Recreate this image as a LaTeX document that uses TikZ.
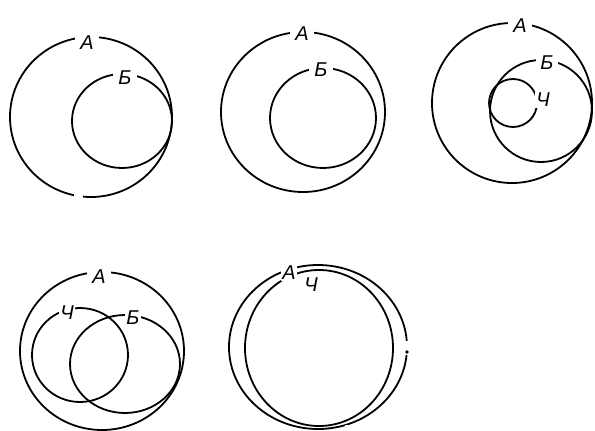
\documentclass[tikz,border=0pt]{standalone}
\usepackage{fontspec}
\setmainfont{Liberation Sans}
\begin{document}
\begin{tikzpicture}[x=1pt,y=-1pt,
  ring/.style={line width=1.8pt},
  lbl/.style={fill=white,inner sep=3pt,font=\itshape\fontsize{20}{20}\selectfont},
  gap/.style={fill=white,inner sep=0pt,minimum width=#1,minimum height=6pt}]
\useasboundingbox (0,0) rectangle (595,431);
% diagram 1
\draw[ring] (91,117) ellipse [x radius=81,y radius=80];
\draw[ring] (122,121) ellipse [x radius=50,y radius=47];
\node[gap=9pt] (g1) at (78,197) {};
\node[lbl,inner xsep=5pt] (a1) at (87,43) {А};
\node[lbl,inner xsep=5pt] (b1) at (125,78) {Б};
% diagram 2
\draw[ring] (303,112) ellipse [x radius=82,y radius=80];
\draw[ring] (323,118) ellipse [x radius=53,y radius=50];
\node[lbl,inner xsep=5pt] (a2) at (302,34) {А};
\node[lbl,inner xsep=5pt] (b2) at (321,70) {Б};
% diagram 3
\draw[ring] (512,103) ellipse [x radius=80,y radius=80];
\draw[ring] (541,111) ellipse [x radius=51,y radius=51];
\draw[ring] (513,103) ellipse [x radius=24,y radius=24];
\node[lbl,inner xsep=5pt] (a3) at (520,26) {А};
\node[lbl,inner xsep=4pt] (b3) at (547,63) {Б};
\node[lbl,inner sep=1.5pt] (c3) at (543,100) {Ч};
% diagram 4
\draw[ring] (102,351) ellipse [x radius=82,y radius=79];
\draw[ring] (125,364) ellipse [x radius=55,y radius=49];
\draw[ring] (80,355) ellipse [x radius=48,y radius=47];
\node[lbl,inner xsep=5pt] (a4) at (99,277) {А};
\node[lbl,inner sep=1.5pt] (b4) at (133,318) {Б};
\node[lbl,inner sep=1.5pt] (c4) at (67,313) {Ч};
% diagram 5
\draw[ring] (318,347) ellipse [x radius=89,y radius=82];
\draw[ring] (319,348) ellipse [x radius=74,y radius=78];
\node[gap=5pt,minimum height=14pt] (g5a) at (407,348) {};
\node[gap=10pt] (g5b) at (350,428) {};
\fill (407,352) circle [radius=1.8] coordinate (d5);
\node[lbl,inner sep=1.5pt] (a5) at (289,273) {А};
\node[lbl,inner sep=1pt] (c5) at (311,285) {Ч};
\end{tikzpicture}
\end{document}
